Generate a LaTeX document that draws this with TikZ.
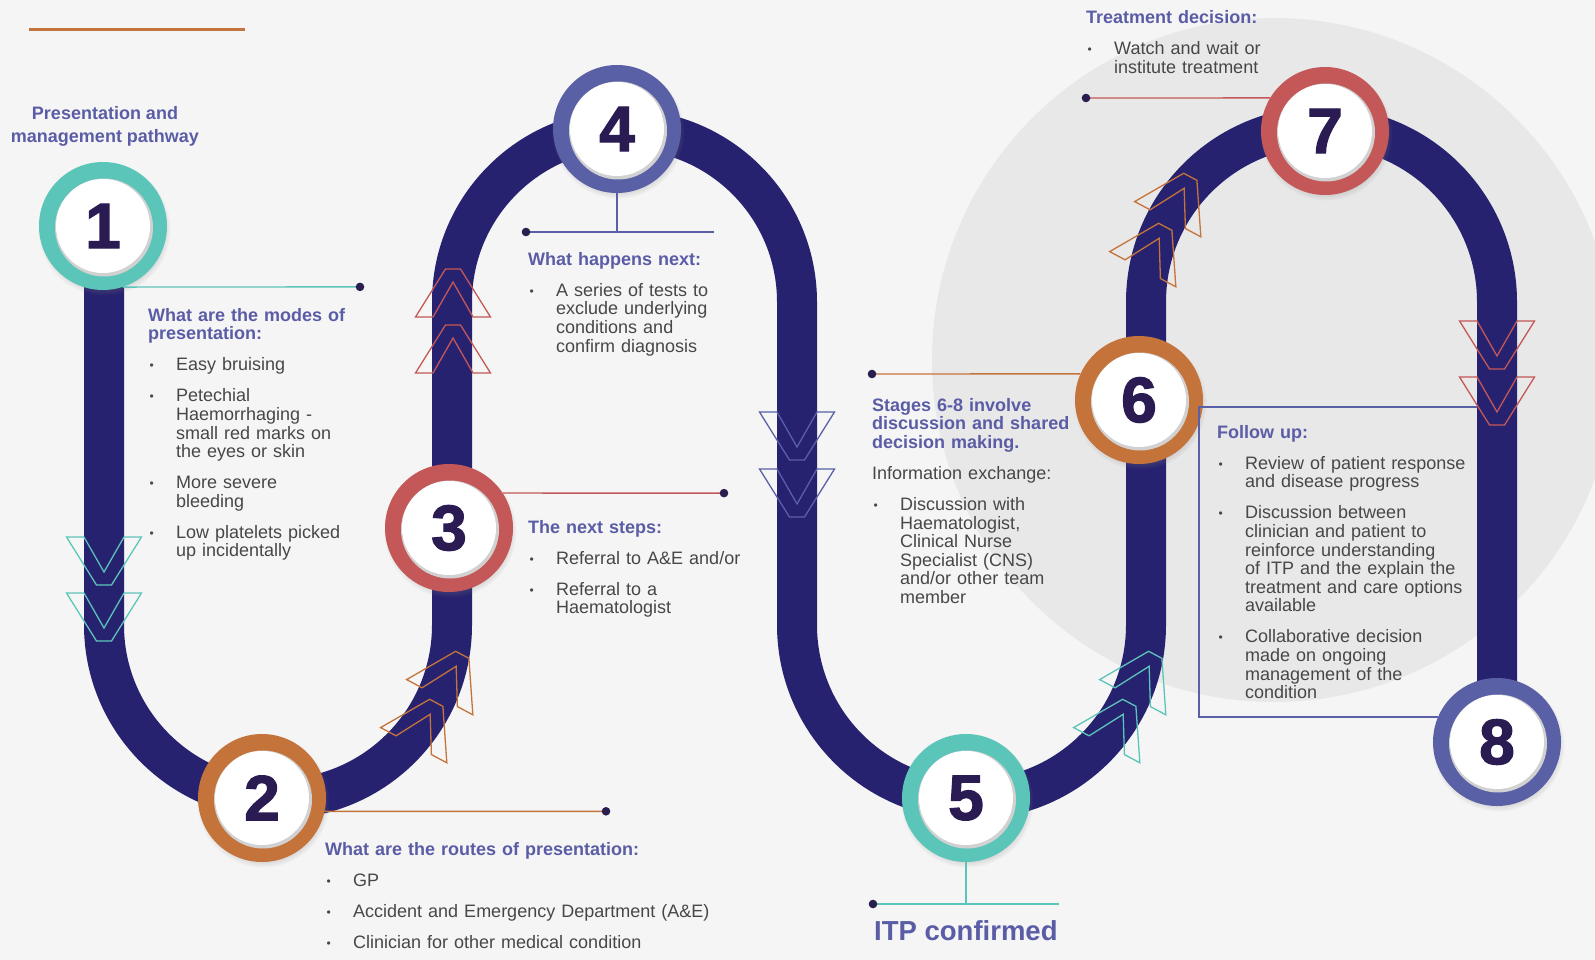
\documentclass[tikz,border=0pt]{standalone}
\usepackage{fontspec}
\setmainfont{Liberation Sans}
\newfontfamily\numfont{Liberation Sans}[UprightFont={* Bold},FakeBold=2]
\usetikzlibrary{calc, positioning, shadows}

\definecolor{paper}{HTML}{F5F5F5}
\definecolor{disc}{HTML}{E8E8E8}
\definecolor{road}{HTML}{27226F}
\definecolor{aqua}{HTML}{5CC5BA}
\definecolor{ochre}{HTML}{C4733A}
\definecolor{coral}{HTML}{C45757}
\definecolor{iris}{HTML}{5A60A6}
\definecolor{numcol}{HTML}{2A1B52}
\definecolor{txt}{HTML}{474747}
\definecolor{hdcol}{HTML}{5A5DA5}
\definecolor{dotcol}{HTML}{2A1E4E}

\setlength{\parindent}{0pt}
\setlength{\parskip}{0pt}
\newcommand{\hd}[1]{{\color{hdcol}\bfseries #1}}
\newcommand{\bitem}[1]{\par\vspace{12.4pt}\hangindent=28pt\hangafter=0\noindent\llap{\makebox[28pt][l]{\hspace{1.5pt}\raisebox{1.2pt}{\fontsize{12}{12}\selectfont •}}}#1}

\tikzset{chev/.pic={\draw[pic actions] (-37.5,24) -- (-7.5,-24) -- (7.5,-24) -- (37.5,24) -- (20,24) -- (0,-11) -- (-20,24) -- cycle;}}

\begin{document}
\begin{tikzpicture}[x=1pt, y=-1pt,
  stage/.style = {circle, minimum size=128pt, inner sep=0pt, fill=#1, text=numcol,
    font=\numfont\fontsize{64}{64}\selectfont,
    circular drop shadow={shadow xshift=1pt, shadow yshift=-3pt, shadow scale=1.04, opacity=0.35},
    path picture={\fill[black!18] ([shift={(1pt,-1.5pt)}]path picture bounding box.center) circle (49pt);
      \fill[white] (path picture bounding box.center) circle (47pt);}},
  lnk/.style = {draw=#1, line width=1.4pt},
  blk/.style = {anchor=north west, inner sep=0pt, text width=420pt, align=left, text=txt,
    font=\fontsize{18}{18.6}\selectfont},
  arrw/.style = {draw=#1, line width=1.3pt, line join=miter}]
\useasboundingbox (0,0) rectangle (1595,960);
\clip (0,0) rectangle (1595,960);
\fill[paper] (0,0) rectangle (1595,960);
\fill[disc] (1274,360) circle (342pt);
\draw[ochre, line width=3.5pt] (29,29.5) -- (245,29.5);

\coordinate (s1) at (103,226);
\coordinate (s2) at (262,798);
\coordinate (s3) at (449,528);
\coordinate (s4) at (617,129);
\coordinate (s5) at (966,798);
\coordinate (s6) at (1139,400);
\coordinate (s7) at (1325,131);
\coordinate (s8) at (1497,742);

\draw[road, line width=40pt] (104,226) -- (104,625) arc[start angle=180, end angle=0, radius=174]
  -- (452,302) arc[start angle=180, end angle=360, radius=172.5]
  -- (797,625) arc[start angle=180, end angle=0, radius=174.5]
  -- (1146,302) arc[start angle=180, end angle=360, radius=175.5] -- (s8);

\foreach \x/\y/\r/\c in {104/561/180/aqua, 104/617/180/aqua, 453/293/0/coral, 453/349/0/coral,
  797/436/180/iris, 797/493/180/iris, 1497/345/180/coral, 1497/401/180/coral,
  451/676/-28/ochre, 425/724/-28/ochre, 1144/676/-28/aqua, 1118/724/-28/aqua,
  1179/198/-28/ochre, 1154/248/-28/ochre}{
\pic[arrw=\c, rotate=\r] at (\x,\y) {chev};
}

\foreach \i/\c in {1/aqua, 2/ochre, 3/coral, 4/iris, 5/aqua, 6/ochre, 7/coral, 8/iris}{
\node[stage=\c] (n\i) at (s\i) {\i};
}

\coordinate (d1) at (360,286.9);
\coordinate (d2) at (606,811.3);
\coordinate (d3) at (724,493.1);
\coordinate (d4) at (526,232);
\coordinate (e4) at (714,232);
\coordinate (d5) at (873,904);
\coordinate (e5) at (1059,904);
\coordinate (d6) at (872,374);
\coordinate (d7) at (1086,98);
\coordinate (f8) at (1199,407);
\coordinate (g8) at (1477,407);

\draw[lnk=aqua] (n1.-72) -- (d1);
\draw[lnk=ochre] (n2.-12) -- (d2);
\draw[lnk=coral] (n3.33) -- (d3);
\draw[lnk=iris] (n4.south) -- (n4 |- d4);
\draw[lnk=iris] (d4) -- (e4);
\draw[lnk=aqua] (n5.south) -- (n5 |- d5);
\draw[lnk=aqua] (d5) -- (e5);
\draw[lnk=ochre] (n6.156) -- (d6);
\draw[lnk=coral] (n7.149) -- (d7);
\draw[lnk=iris] (n8.157) -- (n8.157 -| f8) |- (g8);
\foreach \d in {d1, d2, d3, d4, d5, d6, d7}{
\fill[dotcol] (\d) circle (4.3pt);
}

\node[anchor=north, align=center, text=hdcol, font=\bfseries\fontsize{18}{23}\selectfont] (ttl) at (105,103) {Presentation and\\management pathway};

\node[blk] (t1) at (148,308) {\hd{What are the modes of\\presentation:}
\bitem{Easy bruising}
\bitem{Petechial\newline Haemorrhaging -\newline small red marks on\newline the eyes or skin}
\bitem{More severe\newline bleeding}
\bitem{Low platelets picked\newline up incidentally}\par};

\node[blk] (t2) at (325,842) {\hd{What are the routes of presentation:}
\bitem{GP}
\bitem{Accident and Emergency Department (A\&E)}
\bitem{Clinician for other medical condition}\par};

\node[blk] (t3) at (528,520) {\hd{The next steps:}
\bitem{Referral to A\&E and/or}
\bitem{Referral to a\newline Haematologist}\par};

\node[blk] (t4) at (528,252) {\hd{What happens next:}
\bitem{A series of tests to\newline exclude underlying\newline conditions and\newline confirm diagnosis}\par};

\node[blk] (t6) at (872,398) {\hd{Stages 6-8 involve\\discussion and shared\\decision making.}
\par\vspace{12.4pt}Information exchange:
\bitem{Discussion with\newline Haematologist,\newline Clinical Nurse\newline Specialist (CNS)\newline and/or other team\newline member}\par};

\node[blk] (t7) at (1086,10.5) {\hd{Treatment decision:}
\bitem{Watch and wait or\newline institute treatment}\par};

\node[blk] (t8) at (1217,425) {\hd{Follow up:}
\bitem{Review of patient response\newline and disease progress}
\bitem{Discussion between\newline clinician and patient to\newline reinforce understanding\newline of ITP and the explain the\newline treatment and care options\newline available}
\bitem{Collaborative decision\newline made on ongoing\newline management of the\newline condition}\par};

\node[anchor=base west, inner sep=0pt, text=hdcol, font=\bfseries\fontsize{27.5}{27.5}\selectfont] (itp) at (874,940.5) {ITP confirmed};
\end{tikzpicture}
\end{document}
